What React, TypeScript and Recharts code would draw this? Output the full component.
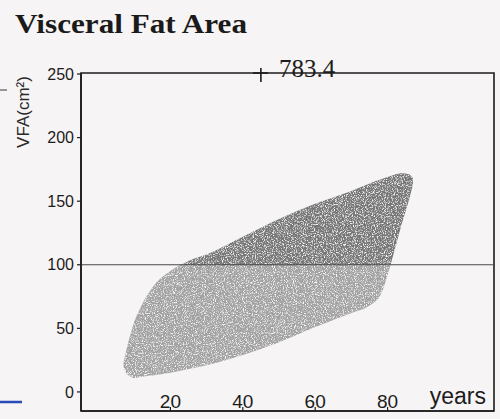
import React from 'react';
import { ComposedChart, Area, XAxis, YAxis, ReferenceLine, ReferenceArea, ReferenceDot } from 'recharts';

// age (years) and the upper / lower edge of the shaded band (cm²)
const ages = [7, 8, 9, 10, 12, 15, 20, 25, 30, 40, 50, 60, 70, 75, 78, 80, 82, 84, 86, 87];
const upperVfa = [22, 35, 46, 55, 68, 82, 95, 103, 108, 122, 136, 148, 158, 164, 167, 169, 171, 172, 171, 168];
const lowerVfa = [20, 14, 12, 11, 12, 13, 15, 18, 21, 29, 39, 51, 62, 68, 76, 92, 112, 133, 152, 163];

const xTicks = [20, 40, 60, 80];
const yTicks = [0, 50, 100, 150, 200, 250];
const threshold = 100;

// measured value that lies off the top of the scale
const outlierAge = 45;
const outlierValue = 783.4;

const xDomain = [-4.7, 109.4];
const yDomain = [-15, 250.8];

const data = ages.map((age, i) => ({ age, range: [lowerVfa[i], upperVfa[i]] }));

const bandTop = Math.max(...upperVfa);
const bandBottom = Math.min(...lowerVfa);
const splitOffset = (bandTop - threshold) / (bandTop - bandBottom);

const INK = '#1c1c1c';
const SANS = "'Liberation Sans', Arial, sans-serif";

const OutlierMark = ({ cx, cy }: any) => (
  <g>
    <line x1={cx} x2={cx} y1={cy - 6} y2={cy + 8} stroke={INK} strokeWidth={1.6} />
    <line x1={cx - 8} x2={cx + 7} y1={cy - 1} y2={cy - 1} stroke={INK} strokeWidth={1.6} />
    <text x={cx + 18} y={cy + 3} fontFamily="'Liberation Serif', serif" fontSize={25} fill={INK}>
      {outlierValue}
    </text>
  </g>
);

// x ticks sit inside the frame: short mark up from the axis, number above it
const InsideTick = ({ x, y, payload }: any) => (
  <g>
    <line x1={x} x2={x} y1={y} y2={y - 4} stroke={INK} strokeWidth={1.2} />
    <text x={x} y={y - 3} textAnchor="middle" fontFamily={SANS} fontSize={19} fill={INK}>
      {payload.value}
    </text>
  </g>
);

export default function App() {
  return (
    <div style={{ position: 'absolute', left: 0, top: 0, width: 500, height: 419, background: '#f6f4f4' }}>
      <svg width={500} height={419} style={{ position: 'absolute', left: 0, top: 0 }}>
        <text
          x={15}
          y={33}
          fontFamily="'Liberation Serif', serif"
          fontWeight="bold"
          fontSize={28}
          textLength={232}
          lengthAdjust="spacingAndGlyphs"
          fill="#1a1a1a"
        >
          Visceral Fat Area
        </text>
        <text
          transform="translate(29,112) rotate(-90)"
          textAnchor="middle"
          fontFamily={SANS}
          fontSize={17}
          fill="#2a2a2a"
        >
          VFA(cm²)
        </text>
        <line x1={0} x2={7} y1={90} y2={90} stroke="#777" strokeWidth={1.5} />
        <line x1={0} x2={22} y1={402} y2={402} stroke="#2a4bb5" strokeWidth={2.5} />
      </svg>
      <ComposedChart
        width={500}
        height={419}
        data={data}
        margin={{ top: 73, right: 6, bottom: 7, left: 0 }}
        style={{ position: 'absolute', left: 0, top: 0 }}
      >
        <defs>
          <linearGradient id="vfaFill" x1="0" y1="0" x2="0" y2="1">
            <stop offset={0} stopColor="#777777" />
            <stop offset={splitOffset} stopColor="#777777" />
            <stop offset={splitOffset} stopColor="#a2a2a2" />
            <stop offset={1} stopColor="#a2a2a2" />
          </linearGradient>
          <filter id="grain" x="0" y="0" width="100%" height="100%">
            <feTurbulence type="fractalNoise" baseFrequency="0.9" numOctaves={2} seed={4} result="noise" />
            <feColorMatrix
              in="noise"
              type="matrix"
              values="0 0 0 0 1  0 0 0 0 1  0 0 0 0 1  3.2 0 0 0 -1.55"
              result="speck"
            />
            <feComposite in="speck" in2="SourceGraphic" operator="in" result="speckIn" />
            <feMerge>
              <feMergeNode in="SourceGraphic" />
              <feMergeNode in="speckIn" />
            </feMerge>
          </filter>
        </defs>
        <XAxis
          dataKey="age"
          type="number"
          domain={xDomain}
          ticks={xTicks}
          allowDataOverflow
          height={1}
          tickSize={0}
          tickMargin={0}
          axisLine={{ stroke: INK, strokeWidth: 1.6 }}
          tickLine={false}
          tick={InsideTick}
          label={{
            content: ({ viewBox }: any) => (
              <text
                x={viewBox.x + viewBox.width - 8}
                y={viewBox.y - 7}
                textAnchor="end"
                fontFamily={SANS}
                fontSize={23}
                fill={INK}
              >
                years
              </text>
            ),
          }}
        />
        <YAxis
          type="number"
          domain={yDomain}
          ticks={yTicks}
          allowDataOverflow
          width={81}
          tickSize={4}
          tickMargin={3}
          axisLine={{ stroke: INK, strokeWidth: 1.6 }}
          tickLine={{ stroke: INK, strokeWidth: 1.2 }}
          tick={{ fill: INK, fontSize: 16, fontFamily: SANS }}
        />
        <ReferenceLine y={threshold} stroke="#4a4a4a" strokeWidth={1.2} />
        <Area
          dataKey="range"
          type="monotone"
          stroke="none"
          fill="url(#vfaFill)"
          fillOpacity={1}
          filter="url(#grain)"
          dot={false}
          activeDot={false}
          isAnimationActive={false}
        />
        <ReferenceArea
          x1={xDomain[0]}
          x2={xDomain[1]}
          y1={yDomain[0]}
          y2={yDomain[1]}
          fill="none"
          stroke={INK}
          strokeWidth={1.6}
        />
        <ReferenceDot
          x={outlierAge}
          y={Math.min(outlierValue, yTicks[yTicks.length - 1])}
          ifOverflow="visible"
          shape={OutlierMark}
        />
      </ComposedChart>
    </div>
  );
}
